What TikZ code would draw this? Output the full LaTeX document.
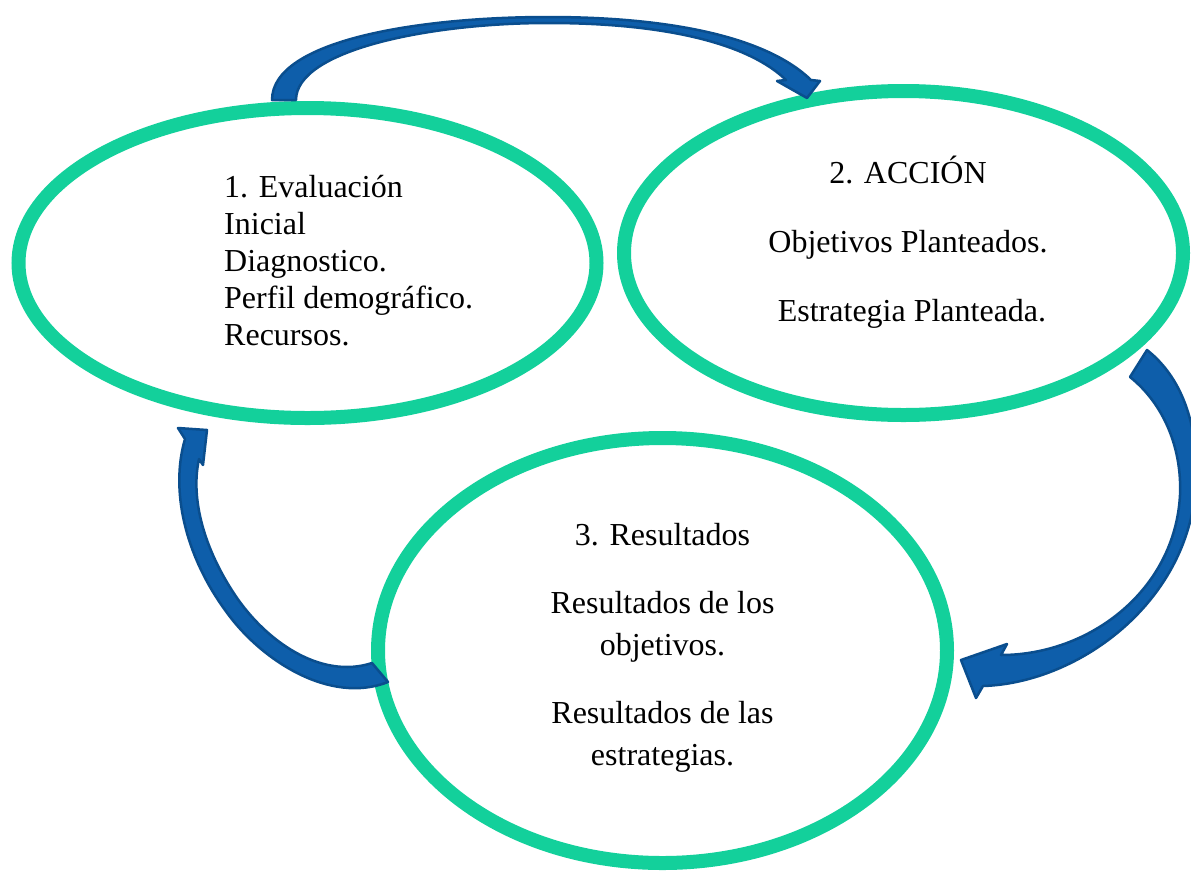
\documentclass[tikz,border=0pt]{standalone}
\usepackage{fontspec}
\setmainfont{Liberation Serif}
\usetikzlibrary{shapes.geometric}

\definecolor{cicloColor}{RGB}{19,208,155}
\definecolor{flechaColor}{RGB}{14,94,170}
\definecolor{bordeColor}{RGB}{10,78,142}

\begin{document}
\begin{tikzpicture}[x=1pt,y=-1pt,
    ciclo/.style={draw=cicloColor, line width=14pt, ellipse, inner sep=0pt, outer sep=0pt},
    flecha/.style={fill=flechaColor, draw=bordeColor, line width=2.5pt, line join=round},
    texto/.style={inner sep=0pt, font=\fontsize{32pt}{37pt}\selectfont}]
  \useasboundingbox (0,0) rectangle (1191,871);
  % Ellipses
  \node[ciclo, minimum width=578pt, minimum height=310pt] (evaluacion) at (307.5,263) {};
  \node[ciclo, minimum width=559pt, minimum height=324pt] (accion) at (903.5,253) {};
  \node[ciclo, minimum width=569pt, minimum height=425pt] (resultados) at (662.5,650.5) {};
  % Texts (base = last line)
  \node[texto, align=left, anchor=base west] (textoEvaluacion) at (224,345)
    {1. Evaluación\\Inicial\\Diagnostico.\\Perfil demográfico.\\Recursos.};
  \node[texto, align=center, anchor=base] (textoAccion) at (908,321)
    {2. ACCIÓN\\[32pt]Objetivos Planteados.\\[32pt]\ Estrategia Planteada.};
  \node[texto, align=center, anchor=base, font=\fontsize{32pt}{42pt}\selectfont] (textoResultados) at (662.5,765)
    {3. Resultados\\[26pt]Resultados de los\\objetivos.\\[26pt]Resultados de las\\estrategias.};
  % Arrows
  \coordinate (baseUnoA) at (272,100);
  \coordinate (baseUnoB) at (296,100);
  \coordinate (puntaUno) at (807,98);
  \coordinate (baseDosA) at (1147,350);
  \coordinate (baseDosB) at (1130,377);
  \coordinate (puntaDos) at (961,660);
  \coordinate (baseTresA) at (388,682);
  \coordinate (baseTresB) at (372,663);
  \coordinate (puntaTres) at (207,430);
  \draw[flecha] (baseUnoA) .. controls (272,40) and (420,17) .. (548,17)
    .. controls (680,17) and (770,40) .. (811,80) -- (820,81) -- (puntaUno)
    -- (777,81) -- (786,80) .. controls (750,45) and (670,23) .. (548,23)
    .. controls (430,23) and (296,50) .. (baseUnoB) -- cycle;
  \draw[flecha] (baseDosA) .. controls (1185,380) and (1198,430) .. (1196,480)
    .. controls (1192,600) and (1080,683) .. (983,686) -- (976,698) -- (puntaDos)
    -- (1007,644) -- (1001,655) .. controls (1090,655) and (1175,590) .. (1180,495)
    .. controls (1182,450) and (1165,405) .. (baseDosB) -- cycle;
  \draw[flecha] (baseTresA) .. controls (330,705) and (260,660) .. (225,610)
    .. controls (185,555) and (170,490) .. (185,439) -- (178,428) -- (puntaTres)
    -- (203,465) -- (199,459) .. controls (190,500) and (205,550) .. (235,595)
    .. controls (265,640) and (320,680) .. (baseTresB) -- cycle;
\end{tikzpicture}
\end{document}
